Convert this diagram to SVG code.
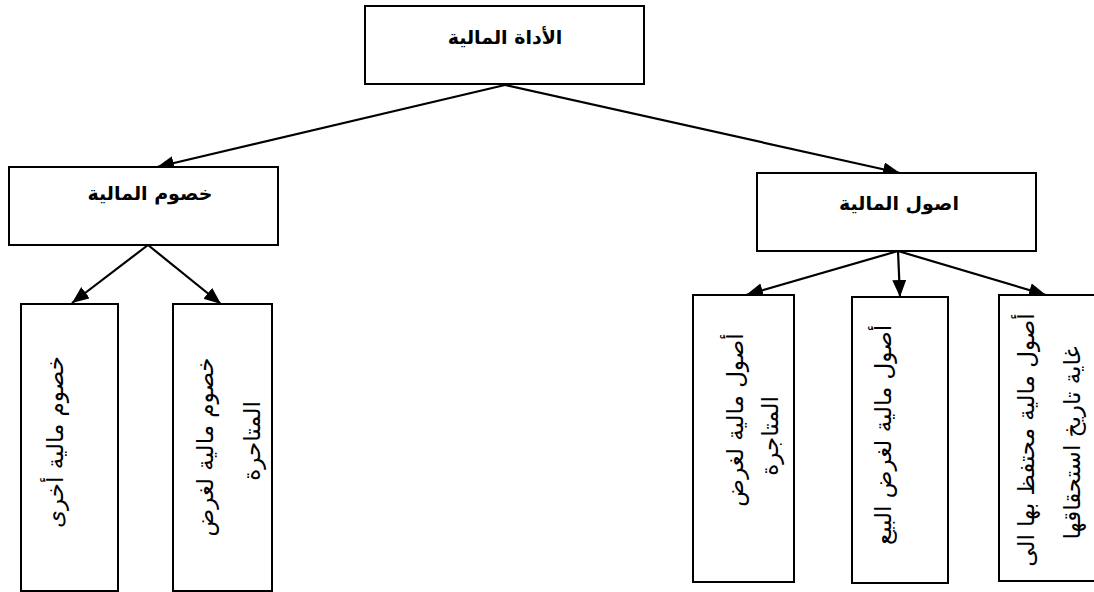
<svg xmlns="http://www.w3.org/2000/svg" width="1094" height="592" viewBox="0 0 1094 592">
<style>
.box{fill:#fff;stroke:#000;stroke-width:2}
.t{font-family:"DejaVu Sans",sans-serif;font-size:19px;font-weight:bold;fill:#000;text-anchor:middle}
.v{font-family:"DejaVu Sans",sans-serif;font-size:23px;fill:#000;text-anchor:middle;dominant-baseline:central}
.c{stroke:#000;stroke-width:2.2;fill:none;marker-end:url(#ah)}
</style>
<defs>
<marker id="ah" markerUnits="userSpaceOnUse" markerWidth="20" markerHeight="16" refX="17" refY="7" orient="auto">
<path d="M0,0 L17,7 L0,14 Z" fill="#000"/>
</marker>
</defs>
<rect width="1094" height="592" fill="#fff"/>
<g id="connectors">
<line class="c" x1="505" y1="85" x2="157" y2="167"/>
<line class="c" x1="505" y1="85" x2="900" y2="173"/>
<line class="c" x1="148" y1="245" x2="72" y2="303"/>
<line class="c" x1="148" y1="245" x2="221" y2="304"/>
<line class="c" x1="898" y1="251" x2="746" y2="295"/>
<line class="c" x1="898" y1="251" x2="900" y2="297"/>
<line class="c" x1="898" y1="251" x2="1046" y2="295"/>
</g>
<g id="root">
<rect class="box" x="365" y="6" width="279" height="78"/>
<text class="t" x="505" y="44">الأداة المالية</text>
</g>
<g id="liabilities">
<rect class="box" x="9" y="167" width="269" height="78"/>
<text class="t" x="150" y="200">خصوم المالية</text>
</g>
<g id="assets">
<rect class="box" x="757" y="173" width="279" height="78"/>
<text class="t" x="899" y="210">اصول المالية</text>
</g>
<g id="liab-other">
<rect class="box" x="21" y="304" width="97" height="287"/>
<text class="v" transform="translate(55,442) rotate(-90)">خصوم مالية أخرى</text>
</g>
<g id="liab-trading">
<rect class="box" x="173" y="304" width="99" height="287"/>
<text class="v" transform="translate(205,447) rotate(-90)">خصوم مالية لغرض</text>
<text class="v" transform="translate(252,441) rotate(-90)">المتاحرة</text>
</g>
<g id="asset-trading">
<rect class="box" x="693" y="295" width="101" height="287"/>
<text class="v" transform="translate(735,420) rotate(-90)">أصول مالية لغرض</text>
<text class="v" transform="translate(770,436) rotate(-90)">المتاجرة</text>
</g>
<g id="asset-sale">
<rect class="box" x="852" y="297" width="96" height="286"/>
<text class="v" transform="translate(883,435) rotate(-90)">أصول مالية لغرض البيع</text>
</g>
<g id="asset-maturity">
<rect class="box" x="999" y="295" width="110" height="286"/>
<text class="v" transform="translate(1026,440) rotate(-90)">أصول مالية محتفظ بها الى</text>
<text class="v" transform="translate(1072,443) rotate(-90)">غاية تاريخ استحقاقها</text>
</g>
</svg>
